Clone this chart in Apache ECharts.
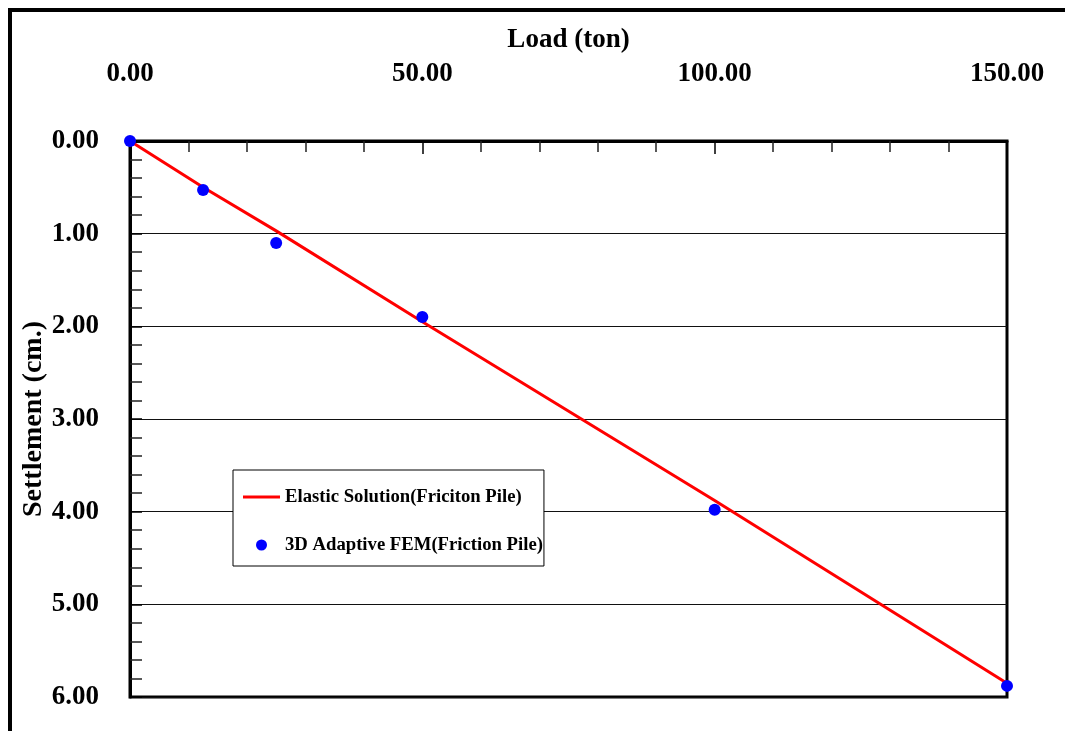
<!DOCTYPE html>
<html>
<head>
<meta charset="utf-8">
<title>Load vs Settlement</title>
<script src="https://cdn.jsdelivr.net/npm/echarts@6/dist/echarts.min.js"></script>
<style>
  html, body { margin: 0; padding: 0; background: #fff; }
  #chart { width: 1065px; height: 731px; }
</style>
</head>
<body>
<div id="chart"></div>
<script>
// Load (ton) vs settlement (cm.) for a friction pile
var elasticLoad = [0, 12.5, 25, 50, 100, 151];
var elasticSettlement = [0, 0.50, 0.97, 1.95, 3.88, 5.89];

var femLoad = [0, 12.5, 25, 50, 100, 150];
var femSettlement = [0, 0.53, 1.10, 1.90, 3.98, 5.88];

var xTicks = [0, 50, 100, 150];
var yTicks = [0, 1, 2, 3, 4, 5, 6];

var seriesNames = ['Elastic Solution(Friciton Pile)', '3D Adaptive FEM(Friction Pile)'];

function pairs(xs, ys) {
  return xs.map(function (x, i) { return [x, ys[i]]; });
}

var FONT = '"Liberation Serif", "Times New Roman", serif';

var chart = echarts.init(document.getElementById('chart'), null, { renderer: 'canvas' });

chart.setOption({
  backgroundColor: '#ffffff',
  animation: false,
  textStyle: { fontFamily: FONT },
  graphic: [
    // page frame (top and left edges)
    { type: 'rect', shape: { x: 8, y: 8, width: 1065, height: 4 }, style: { fill: '#000' }, silent: true },
    { type: 'rect', shape: { x: 8, y: 8, width: 4, height: 740 }, style: { fill: '#000' }, silent: true }
  ],
  grid: {
    left: 130, top: 141, right: 58, bottom: 34,
    show: true, borderColor: '#000', borderWidth: 3, backgroundColor: 'transparent'
  },
  legend: {
    orient: 'vertical',
    left: 233, top: 470,
    backgroundColor: '#fff',
    borderColor: '#000', borderWidth: 1,
    padding: [17, 1, 11, 10],
    itemWidth: 37, itemHeight: 11,
    itemGap: 28,
    textStyle: { fontFamily: FONT, fontWeight: 'bold', fontSize: 18.7, color: '#000', lineHeight: 20 },
    data: [
      // plain stroke sample for the line series
      { name: seriesNames[0], icon: 'path://M0,0 H37 V3 H0 Z', itemStyle: { color: '#ff0000' } },
      { name: seriesNames[1] }
    ]
  },
  xAxis: {
    type: 'value',
    position: 'top',
    min: 0, max: 150, interval: 50,
    name: 'Load (ton)',
    nameLocation: 'middle',
    nameGap: 87,
    nameMoveOverlap: false,
    nameTextStyle: { fontFamily: FONT, fontWeight: 'bold', fontSize: 27, color: '#000' },
    axisLine: { show: true, lineStyle: { color: '#000', width: 3 } },
    axisTick: { show: true, inside: true, length: 13, lineStyle: { color: '#000', width: 1.5 } },
    minorTick: { show: true, splitNumber: 5, length: 11, lineStyle: { color: '#222', width: 1.5 } },
    axisLabel: {
      margin: 53,
      fontFamily: FONT, fontWeight: 'bold', fontSize: 27, color: '#000',
      customValues: xTicks,
      formatter: function (v) { return v.toFixed(2); }
    },
    splitLine: { show: false }
  },
  yAxis: {
    type: 'value',
    inverse: true,
    min: 0, max: 6, interval: 1,
    name: 'Settlement (cm.)',
    nameLocation: 'middle',
    nameGap: 82,
    nameMoveOverlap: false,
    nameTextStyle: { fontFamily: FONT, fontWeight: 'bold', fontSize: 28, color: '#000' },
    axisLine: { show: true, lineStyle: { color: '#000', width: 3 } },
    axisTick: { show: true, inside: true, length: 12, lineStyle: { color: '#000', width: 1.5 } },
    minorTick: { show: true, splitNumber: 5, length: 12, lineStyle: { color: '#222', width: 1.5 } },
    axisLabel: {
      margin: 31,
      fontFamily: FONT, fontWeight: 'bold', fontSize: 27, color: '#000',
      customValues: yTicks,
      formatter: function (v) { return v.toFixed(2); }
    },
    splitLine: { show: true, lineStyle: { color: '#111', width: 1.2 } }
  },
  series: [
    {
      name: seriesNames[0],
      type: 'line',
      data: pairs(elasticLoad, elasticSettlement),
      showSymbol: false,
      symbol: 'none',
      clip: false,
      lineStyle: { color: '#ff0000', width: 3 },
      itemStyle: { color: '#ff0000' },
      z: 3
    },
    {
      name: seriesNames[1],
      type: 'scatter',
      data: pairs(femLoad, femSettlement),
      symbol: 'circle',
      symbolSize: 12,
      clip: false,
      itemStyle: { color: '#0000ff', opacity: 1 },
      z: 4
    }
  ]
});
</script>
</body>
</html>
